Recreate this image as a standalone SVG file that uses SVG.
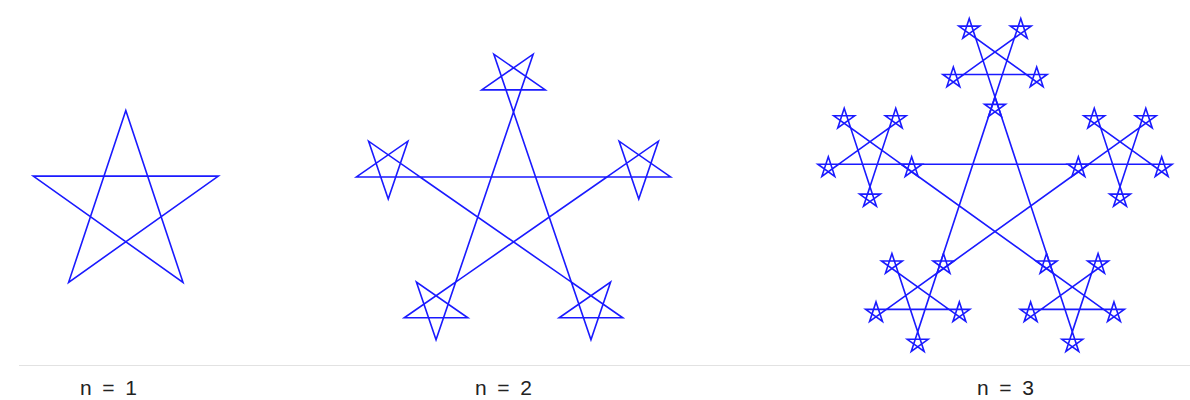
<svg xmlns="http://www.w3.org/2000/svg" width="1190" height="400" viewBox="0 0 1190 400">
<style>
.st{fill:none;stroke:#1a1aff;stroke-width:1.6;stroke-linejoin:miter;vector-effect:non-scaling-stroke}
.lbl{font-family:"Liberation Sans","Open Sans",sans-serif;font-size:21px;fill:#222}
</style>
<defs>
<path id="p" class="st" d="M0,-1 L0.5878,0.809 L-0.9511,-0.309 L0.9511,-0.309 L-0.5878,0.809 Z"/>
<g id="s2"><use href="#p" transform="translate(513.5 206) scale(98.3 94)"/></g>
<g id="s3"><use href="#p" transform="translate(995 194.3) scale(98.6 97.4)"/></g>
<g id="m3">
<use href="#s3"/>
<use href="#s3" transform="translate(995 96.9) scale(-0.3333) translate(-995 -96.9)"/>
<use href="#s3" transform="translate(1088.77 164.2) scale(-0.3333) translate(-1088.77 -164.2)"/>
<use href="#s3" transform="translate(901.23 164.2) scale(-0.3333) translate(-901.23 -164.2)"/>
<use href="#s3" transform="translate(1052.98 273.1) scale(-0.3333) translate(-1052.98 -273.1)"/>
<use href="#s3" transform="translate(937.02 273.1) scale(-0.3333) translate(-937.02 -273.1)"/>
</g>
</defs>
<rect width="1190" height="400" fill="#fff"/>
<line x1="19" y1="365.5" x2="1190" y2="365.5" stroke="#e2e2e2" stroke-width="1"/>

<g id="star-n1">
<use href="#p" transform="translate(125.8 205.5) scale(97.3 95)"/>
</g>

<g id="star-n2">
<use href="#s2"/>
<use href="#s2" transform="translate(513.5 112) scale(-0.34) translate(-513.5 -112)"/>
<use href="#s2" transform="translate(606.98 176.95) scale(-0.34) translate(-606.98 -176.95)"/>
<use href="#s2" transform="translate(420.02 176.95) scale(-0.34) translate(-420.02 -176.95)"/>
<use href="#s2" transform="translate(571.3 282.05) scale(-0.34) translate(-571.3 -282.05)"/>
<use href="#s2" transform="translate(455.7 282.05) scale(-0.34) translate(-455.7 -282.05)"/>
</g>

<g id="star-n3">
<use href="#s3"/>
<use href="#m3" transform="translate(995 96.9) scale(-0.3333) translate(-995 -96.9)"/>
<use href="#m3" transform="translate(1088.77 164.2) scale(-0.3333) translate(-1088.77 -164.2)"/>
<use href="#m3" transform="translate(901.23 164.2) scale(-0.3333) translate(-901.23 -164.2)"/>
<use href="#m3" transform="translate(1052.98 273.1) scale(-0.3333) translate(-1052.98 -273.1)"/>
<use href="#m3" transform="translate(937.02 273.1) scale(-0.3333) translate(-937.02 -273.1)"/>
</g>

<g id="labels">
<text class="lbl" x="80" y="395" textLength="57" lengthAdjust="spacing">n = 1</text>
<text class="lbl" x="475" y="395" textLength="57" lengthAdjust="spacing">n = 2</text>
<text class="lbl" x="977" y="395" textLength="57" lengthAdjust="spacing">n = 3</text>
</g>
</svg>
